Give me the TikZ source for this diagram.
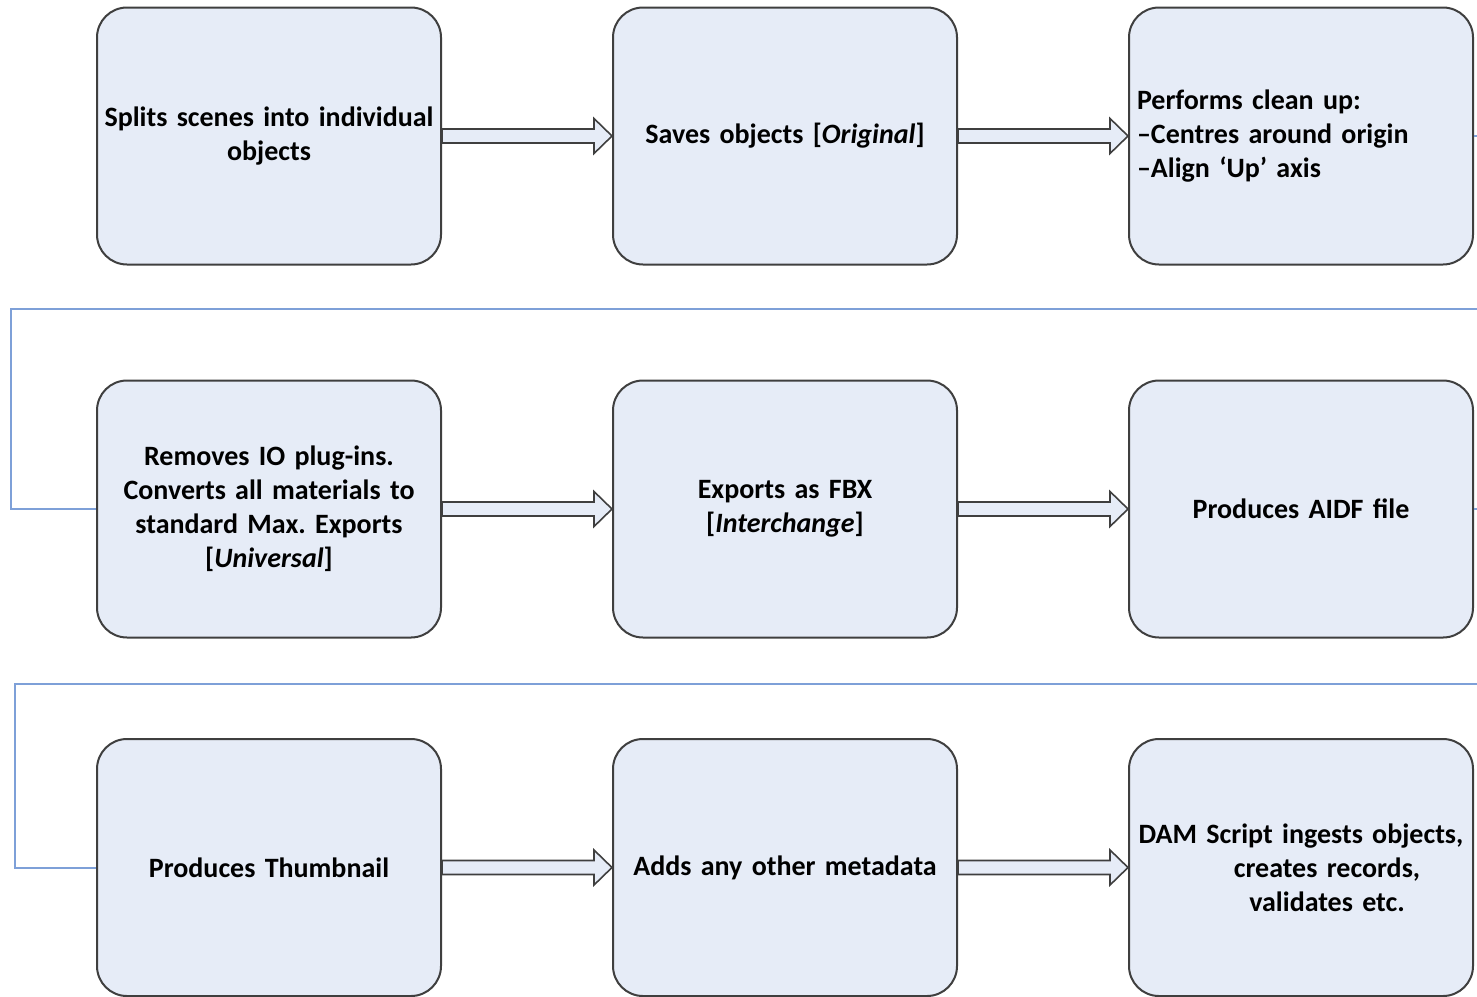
\documentclass[tikz,border=0pt]{standalone}
\usepackage{fontspec}
\setmainfont{Carlito}
\frenchspacing
\begin{document}
\begin{tikzpicture}[x=0.5pt,y=-0.5pt,
  box/.style={draw=boxline,line width=1pt,fill=boxfill,rounded corners=15pt,
    minimum width=172pt,minimum height=128.5pt,inner xsep=1pt,inner ysep=4pt,
    font=\fontsize{14}{17}\selectfont\bfseries,align=center,text width=170pt},
  leftbox/.style={box,inner xsep=4pt,text width=164pt,align=left},
  arr/.style={draw=boxline,line width=0.8pt,fill=boxfill,line join=miter},
  conn/.style={draw=connblue,line width=1pt}]
\definecolor{boxfill}{HTML}{E6ECF7}
\definecolor{boxline}{HTML}{3F3F3F}
\definecolor{connblue}{HTML}{7EA0D8}
\useasboundingbox (0,0) rectangle (1477,996);
\clip (0,0) rectangle (1477,996);
\newcommand{\blockarrow}[2]{%
  \draw[arr] ([yshift=3.5pt]#1.east) -- ([xshift=-9pt,yshift=3.5pt]#2.west)
    -- ([xshift=-9pt,yshift=8.75pt]#2.west) -- (#2.west)
    -- ([xshift=-9pt,yshift=-8.75pt]#2.west) -- ([xshift=-9pt,yshift=-3.5pt]#2.west)
    -- ([yshift=-3.5pt]#1.east) -- cycle;}
% row 1
\node[box] (a1) at (269,136) {Splits scenes into individual\\objects};
\node[box] (a2) at (785,136) {Saves objects [\textit{Original}]};
\node[leftbox] (a3) at (1301,136) {Performs clean up:\\–Centres around origin\\–Align ‘Up’ axis};
% row 2
\node[box] (b1) at (269,509) {Removes IO plug-ins.\\Converts all materials to\\standard Max. Exports\\{[}\textit{Universal}]};
\node[box] (b2) at (785,509) {Exports as FBX\\{[}\textit{Interchange}]};
\node[box] (b3) at (1301,509) {Produces AIDF file};
% row 3
\node[box] (c1) at (269,867.5) {Produces Thumbnail};
\node[box] (c2) at (785,867.5) {Adds any other metadata};
\node[box] (c3) at (1301,867.5) {DAM Script ingests objects,\\\hspace*{26pt}creates records,\\\hspace*{26pt}validates etc.};
% block arrows
\blockarrow{a1}{a2}
\blockarrow{a2}{a3}
\blockarrow{b1}{b2}
\blockarrow{b2}{b3}
\blockarrow{c1}{c2}
\blockarrow{c2}{c3}
% connectors
\draw[conn] (a3.east) -- (1500,136) -- (1500,309) -- (11,309) |- (b1.west);
\draw[conn] (b3.east) -- (1500,509) -- (1500,684) -- (15,684) |- (c1.west);
\end{tikzpicture}
\end{document}
